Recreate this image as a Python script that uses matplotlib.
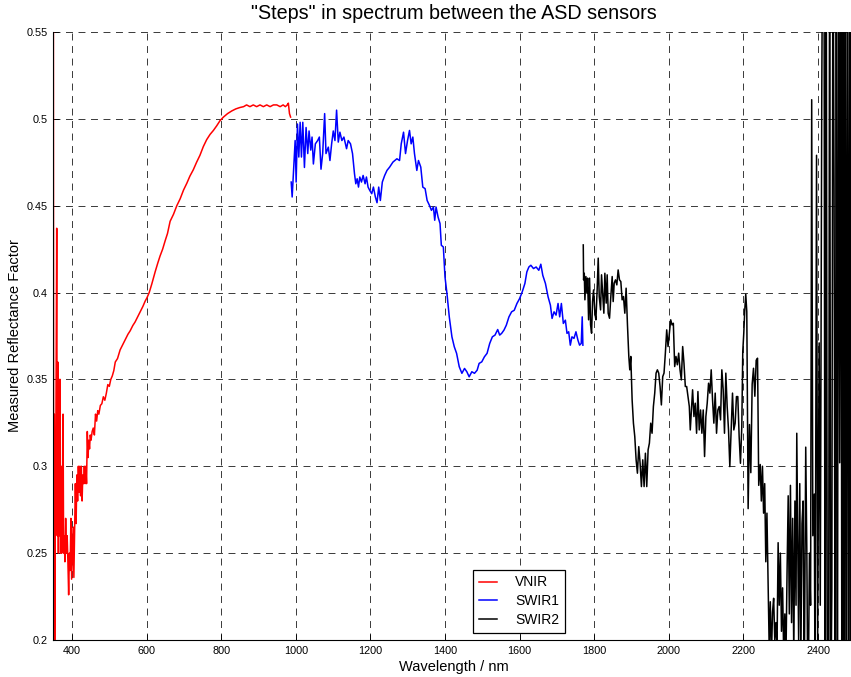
import matplotlib
matplotlib.use("Agg")
import matplotlib.pyplot as plt

# values (wavelength in nm, reflectance factor)
vnir_nm = [350, 351, 352.5, 353.5, 355, 357, 359, 360.5, 362, 363.5, 365, 366.5,
           368, 369.5, 371, 372.5, 374, 376, 377.5, 379, 381, 383, 385, 387, 389,
           391, 393, 395, 397, 399, 401, 403, 405, 407, 409, 411, 413, 415, 417,
           419, 421, 423, 425, 427, 429, 431, 433, 435, 437, 439, 441, 443, 445,
           447, 449, 451, 454, 457, 460, 463, 466, 469, 472, 476, 480, 484, 488,
           492, 496, 500, 504, 508, 512, 516, 522, 529, 536, 543, 550, 556, 563,
           569, 576, 583, 590, 596, 601, 607, 614, 619, 623, 630, 636, 643, 650,
           656, 663, 672, 681, 690, 699, 708, 716, 725, 734, 743, 752, 761, 770,
           779, 788, 797, 806, 817, 828, 839, 850, 860, 868, 877, 886, 895, 904,
           913, 922, 931, 940, 949, 958, 966, 972, 977, 980, 983, 986]
vnir_refl = [0.62, 0.15, 0.33, 0.18, 0.26, 0.33, 0.437, 0.26, 0.36, 0.25, 0.35, 0.26,
             0.35, 0.25, 0.30, 0.25, 0.26, 0.33, 0.25, 0.26, 0.245, 0.27, 0.25, 0.26, 0.245,
             0.226, 0.25, 0.24, 0.27, 0.235, 0.25, 0.265, 0.236, 0.265, 0.29, 0.267, 0.295, 0.28, 0.30,
             0.285, 0.30, 0.283, 0.30, 0.28, 0.295, 0.29, 0.30, 0.29, 0.30, 0.29, 0.32, 0.305, 0.315,
             0.31, 0.318, 0.315, 0.32, 0.322, 0.318, 0.33, 0.326, 0.332, 0.33, 0.335, 0.336, 0.34, 0.338,
             0.342, 0.347, 0.346, 0.35, 0.352, 0.355, 0.36, 0.362, 0.367, 0.370, 0.373, 0.376, 0.378, 0.381,
             0.383, 0.386, 0.389, 0.392, 0.395, 0.397, 0.400, 0.405, 0.409, 0.412, 0.417, 0.421, 0.425, 0.430,
             0.434, 0.441, 0.445, 0.450, 0.454, 0.459, 0.463, 0.467, 0.4706, 0.475, 0.479, 0.484, 0.488, 0.491,
             0.4933, 0.496, 0.499, 0.501, 0.503, 0.5045, 0.5057, 0.5065, 0.507, 0.508, 0.507, 0.508, 0.507, 0.508,
             0.507, 0.508, 0.507, 0.508, 0.508, 0.507, 0.508, 0.507, 0.508, 0.509, 0.503, 0.501]

swir1_nm = [987.6, 990.2, 993.8, 998.2, 1000.9, 1004.4, 1008, 1011.6, 1015.1, 1018.7,
            1023.1, 1027.5, 1032, 1035.5, 1040, 1043.5, 1047.1, 1052.4, 1058.6, 1063.1,
            1067.5, 1072, 1077.3, 1080.9, 1087.1, 1091.5, 1096, 1100.4, 1104.9, 1109.3,
            1113.8, 1118.2, 1123.5, 1128.9, 1136, 1140.4, 1146.6, 1152, 1157.3, 1160.8,
            1164.4, 1168, 1171.5, 1176, 1180.4, 1185.7, 1189.3, 1193.7, 1198.2, 1203.5,
            1208, 1213.3, 1217.7, 1222.2, 1226.6, 1231.9, 1238.2, 1244.4, 1251.5, 1260.4,
            1271, 1278.1, 1282.6, 1288.8, 1294.1, 1299.5, 1304.8, 1309.2, 1313.7, 1318.1,
            1324.4, 1328.8, 1335, 1340.4, 1346.6, 1352, 1358.2, 1363.6, 1368.9, 1372.4,
            1376, 1381.3, 1386.6, 1390.1, 1395.5, 1399.9, 1405.2, 1411.4, 1418.5, 1424.8,
            1431, 1438.1, 1445.2, 1452.3, 1458.5, 1464.7, 1471.9, 1479, 1486.1, 1491.4,
            1498.5, 1505.6, 1512.7, 1519.8, 1526.9, 1534, 1541.2, 1546.5, 1551.8, 1558.1,
            1564.3, 1571.4, 1578.5, 1585.6, 1592.8, 1599.9, 1607, 1614.1, 1619.4, 1624.8,
            1630.1, 1637.2, 1644.3, 1651.4, 1656.8, 1662.1, 1669.2, 1676.3, 1682.5, 1687,
            1692.3, 1697.6, 1703, 1707.4, 1711.9, 1717.2, 1722.6, 1727, 1731.5, 1735.9,
            1740.3, 1745.7, 1751, 1756.3, 1760.7, 1765.2, 1767.8, 1769.6]
swir1_refl = [0.4636, 0.455, 0.470, 0.4875, 0.4636, 0.497, 0.478, 0.498, 0.478, 0.498,
              0.472, 0.495, 0.48, 0.493, 0.482, 0.4895, 0.474, 0.4856, 0.4875, 0.4895,
              0.471, 0.48, 0.503, 0.48, 0.4837, 0.476, 0.4856, 0.493, 0.4875, 0.505,
              0.4866, 0.4923, 0.4875, 0.4895, 0.4828, 0.4875, 0.4856, 0.48, 0.4684, 0.4626,
              0.4655, 0.4607, 0.4665, 0.4636, 0.4674, 0.4626, 0.4665, 0.4607, 0.4588, 0.4569,
              0.4607, 0.455, 0.4517, 0.4607, 0.453, 0.4636, 0.4674, 0.4703, 0.4722, 0.4751,
              0.477, 0.476, 0.4856, 0.4923, 0.48, 0.4875, 0.4933, 0.4856, 0.4895, 0.48,
              0.4703, 0.476, 0.4722, 0.4607, 0.4598, 0.453, 0.4502, 0.4473, 0.4492, 0.4416,
              0.4492, 0.4435, 0.4397, 0.4272, 0.4262, 0.409, 0.3994, 0.386, 0.3745, 0.3688,
              0.365, 0.3573, 0.3535, 0.3563, 0.3544, 0.3515, 0.3544, 0.3535, 0.3553, 0.3592,
              0.3601, 0.363, 0.365, 0.3707, 0.3745, 0.3755, 0.3787, 0.3755, 0.3765, 0.3784,
              0.3812, 0.386, 0.3889, 0.3898, 0.3937, 0.3965, 0.4004, 0.4052, 0.4119, 0.4147,
              0.4157, 0.4138, 0.4147, 0.4128, 0.4163, 0.4099, 0.4052, 0.3975, 0.3927, 0.3851,
              0.3889, 0.387, 0.3937, 0.386, 0.3937, 0.3822, 0.3841, 0.3765, 0.3774, 0.3697,
              0.3745, 0.3736, 0.3774, 0.3726, 0.3697, 0.3707, 0.386, 0.3697]

swir2_nm = [1770.6, 1771.5, 1773.3, 1775, 1777.7, 1780.4, 1782.2, 1784.9, 1787.5, 1790.2,
            1792.9, 1795.5, 1798.2, 1801.8, 1804.5, 1808, 1810.7, 1813.4, 1817, 1819.6,
            1823.2, 1825.8, 1828.5, 1832.1, 1834.7, 1837.4, 1841, 1844.5, 1848.1, 1850.8,
            1853.5, 1857, 1860.6, 1864.1, 1867.7, 1871.3, 1874.8, 1878.4, 1882, 1885.5,
            1889.1, 1892.7, 1895.3, 1898, 1901.6, 1905.1, 1908.7, 1912.3, 1915.8, 1919.4,
            1923, 1926.5, 1930.1, 1933.7, 1937.2, 1940.8, 1944.4, 1947.9, 1951.5, 1955,
            1958.6, 1962.2, 1965.8, 1969.3, 1972.9, 1976.5, 1980, 1983.6, 1987.1, 1990.7,
            1994.3, 1997.9, 2001.4, 2005, 2008.6, 2012.1, 2015.7, 2019.2, 2022.8, 2026.4,
            2030, 2033.5, 2037.1, 2040.6, 2044.2, 2047.8, 2051.4, 2054.9, 2057.5, 2060.1,
            2063.7, 2067.3, 2070.8, 2074.4, 2078, 2081.5, 2085.1, 2088.6, 2092.2, 2095.8,
            2099.3, 2102.9, 2106.5, 2110.1, 2113.6, 2117.2, 2120.7, 2124.3, 2127.9, 2131.4,
            2135, 2138.6, 2142.1, 2145.7, 2149.2, 2152.8, 2156.4, 2160, 2163.5, 2167.1,
            2170.7, 2174.2, 2177.8, 2181.3, 2184.9, 2188.5, 2192, 2195.6, 2198.2, 2200.9,
            2203.6, 2206.2, 2209, 2212.6, 2216.2, 2219.8, 2223.4, 2227, 2230.6, 2234.2,
            2237.8, 2241, 2245, 2248, 2251, 2254, 2257, 2260, 2263, 2266,
            2269, 2272, 2275, 2278, 2281, 2284, 2287, 2290, 2293, 2296,
            2299, 2302, 2305, 2308, 2311, 2314, 2317, 2320, 2323, 2326,
            2329, 2332, 2335, 2338, 2341, 2343, 2346, 2348, 2351, 2354,
            2357, 2360, 2363, 2367, 2370, 2373, 2377, 2380, 2383, 2386,
            2390, 2392, 2396, 2399, 2403, 2406, 2410, 2413, 2416, 2419,
            2422, 2425, 2428, 2431, 2434, 2437, 2440, 2443, 2446, 2449,
            2452, 2455, 2458, 2461, 2464, 2467, 2470, 2473, 2476, 2479,
            2482, 2485, 2488, 2491, 2494, 2497, 2500]
swir2_refl = [0.4274, 0.4073, 0.4111, 0.3958, 0.4092, 0.3996, 0.4083, 0.3843, 0.4083, 0.3814,
              0.3766, 0.3948, 0.4015, 0.3881, 0.3843, 0.4025, 0.4198, 0.3977, 0.39, 0.4102,
              0.3977, 0.3881, 0.4111, 0.3939, 0.4102, 0.3881, 0.3852, 0.3977, 0.4092, 0.3948,
              0.4054, 0.4073, 0.4044, 0.413, 0.4073, 0.4063, 0.3958, 0.3977, 0.3881, 0.4025,
              0.3814, 0.3632, 0.3555, 0.3632, 0.3382, 0.3248, 0.3171, 0.3037, 0.296, 0.3113,
              0.3017, 0.2883, 0.3037, 0.2883, 0.3075, 0.2883, 0.3094, 0.3133, 0.3248, 0.319,
              0.3344, 0.3421, 0.3536, 0.3555, 0.3536, 0.3459, 0.3353, 0.3516, 0.3536, 0.3651,
              0.3785, 0.3689, 0.3766, 0.3843, 0.3814, 0.3823, 0.3574, 0.3632, 0.3584, 0.3651,
              0.3555, 0.3497, 0.3689, 0.3593, 0.3459, 0.3459, 0.3401, 0.3344, 0.3209, 0.3305,
              0.344, 0.3286, 0.3363, 0.319, 0.343, 0.3209, 0.3324, 0.319, 0.3324, 0.3056,
              0.3286, 0.3363, 0.3478, 0.3421, 0.3555, 0.3382, 0.3248, 0.3421, 0.319, 0.3324,
              0.3344, 0.3267, 0.3555, 0.344, 0.319, 0.3536, 0.3344, 0.3209, 0.2998, 0.3209,
              0.3421, 0.3209, 0.3248, 0.3401, 0.3401, 0.3171, 0.3017, 0.3228, 0.366, 0.3766,
              0.39, 0.399, 0.389, 0.2756, 0.324, 0.2963, 0.3472, 0.3564, 0.3403, 0.361,
              0.3622, 0.289, 0.301, 0.280, 0.300, 0.273, 0.290, 0.245, 0.273, 0.236,
              0.196, 0.222, 0.19, 0.216, 0.224, 0.20, 0.21, 0.195, 0.256, 0.22,
              0.25, 0.205, 0.23, 0.19, 0.215, 0.19, 0.24, 0.283, 0.215, 0.289,
              0.21, 0.27, 0.19, 0.28, 0.22, 0.319, 0.25, 0.20, 0.29, 0.19,
              0.267, 0.28, 0.17, 0.311, 0.25, 0.15, 0.25, 0.22, 0.511, 0.26,
              0.284, 0.16, 0.479, 0.20, 0.371, 0.22, 0.514, 0.65, 0.62, 0.12,
              0.60, 0.15, 0.10, 0.62, 0.15, 0.229, 0.63, 0.458, 0.14, 0.61,
              0.14, 0.64, 0.302, 0.62, 0.15, 0.64, 0.12, 0.62, 0.14, 0.65,
              0.13, 0.63, 0.12, 0.62, 0.15, 0.60, 0.14]

x_ticks = [400, 600, 800, 1000, 1200, 1400, 1600, 1800, 2000, 2200, 2400]
y_ticks = [0.2, 0.25, 0.3, 0.35, 0.4, 0.45, 0.5, 0.55]
y_tick_labels = ['0.2', '0.25', '0.3', '0.35', '0.4', '0.45', '0.5', '0.55']

plt.rcParams['font.family'] = ['Liberation Sans', 'DejaVu Sans']
plt.rcParams['lines.scale_dashes'] = False

fig = plt.figure(figsize=(8.51, 6.77), dpi=100)
ax = fig.add_axes([0.0627, 0.0547, 0.9424, 0.8981])

ax.plot(vnir_nm, vnir_refl, color='#ff0000', lw=1.1, label='VNIR')
ax.plot(swir1_nm, swir1_refl, color='#0000ff', lw=1.1, label='SWIR1')
ax.plot(swir2_nm, swir2_refl, color='black', lw=1.1, label='SWIR2')

ax.set_xlim(350, 2500)
ax.set_ylim(0.2, 0.55)
ax.set_xticks(x_ticks)
ax.set_yticks(y_ticks)
ax.set_yticklabels(y_tick_labels)
ax.tick_params(direction='in', length=4, width=0.6, labelsize=7.8, pad=4)
ax.grid(True, color='0.1', lw=0.6, linestyle=(0, (5, 4)))
ax.set_axisbelow(True)

for side in ['top', 'right']:
    ax.spines[side].set_visible(False)
for side in ['left', 'bottom']:
    ax.spines[side].set_linewidth(0.8)

ax.set_title('"Steps" in spectrum between the ASD sensors', fontsize=14.2, pad=9)
ax.set_xlabel('Wavelength / nm', fontsize=10.5, labelpad=3)
ax.set_ylabel('Measured Reflectance Factor', fontsize=10.5, labelpad=3)

leg = ax.legend(loc='lower left', bbox_to_anchor=(0.5236, 0.012), borderaxespad=0,
                fontsize=10, fancybox=False, framealpha=1, edgecolor='black',
                handlelength=1.3, handletextpad=1.3, labelspacing=0.35,
                borderpad=0.4)
leg.get_frame().set_linewidth(0.9)

fig.savefig('out.png', dpi=100)
